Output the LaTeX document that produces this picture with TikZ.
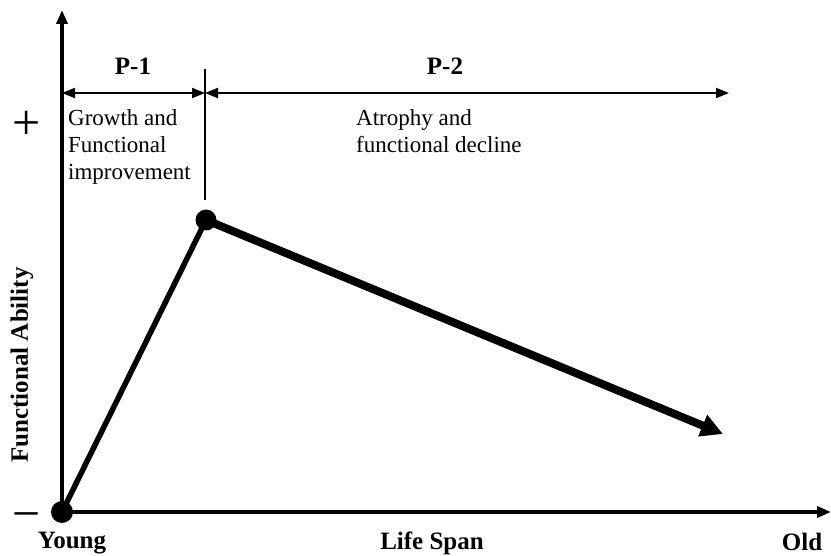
\documentclass[tikz,border=0pt]{standalone}
\usepackage{fontspec}
\setmainfont{Liberation Serif}
\usetikzlibrary{arrows.meta}
\begin{document}
\begin{tikzpicture}[x=1pt,y=-1pt,
  axis/.style={line width=3.5pt,-{Triangle[length=14pt,width=11pt]}},
  span/.style={line width=2pt,{Triangle[length=13pt,width=10pt]}-{Triangle[length=13pt,width=10pt]}},
  dot/.style={circle,fill=black,inner sep=0pt},
  body/.style={font=\fontsize{23}{27}\selectfont,align=left,inner sep=0pt},
  lab/.style={font=\fontsize{25}{30}\selectfont\bfseries,inner sep=0pt},
  sign/.style={font=\fontsize{50}{50}\selectfont,inner sep=0pt}]
\useasboundingbox (0,0) rectangle (831,556);
% coordinates
\coordinate (O) at (62,512);
\coordinate (ytop) at (62,10);
\coordinate (xend) at (831,512);
\coordinate (vtop) at (205,69);
\coordinate (vbot) at (205,200);
\coordinate (p1l) at (62,93);
\coordinate (p1r) at (205,93);
\coordinate (p2r) at (729,93);
\coordinate (tip) at (723,434);
% axes
\draw[axis] (O) -- (ytop);
\draw[axis] (O) -- (xend);
% spans
\draw[line width=1.5pt] (vtop) -- (vbot);
\draw[span] (p1l) -- (p1r);
\draw[span] (p1r) -- (p2r);
% curve
\node[dot,minimum size=22pt] (o) at (O) {};
\node[dot,minimum size=21pt] (pk) at (206,220) {};
\draw[line width=5.5pt] (o.center) -- (pk.center);
\draw[line width=8pt,-{Triangle[length=22pt,width=22pt]}] (pk.center) -- (tip);
% texts
\node[lab] (P1) at (133,66) {P-1};
\node[lab] (P2) at (445,66) {P-2};
\node[body,anchor=north west] (g) at (68,109) {Growth and\\Functional\\improvement};
\node[body,anchor=north west] (a) at (356,109) {Atrophy and\\functional decline};
\node[sign] (plus) at (27,125) {+};
\node[sign] (minus) at (27,522) {\char"2212};
\node[lab] (young) at (72,543) {Young};
\node[lab] (life) at (432,543) {Life Span};
\node[lab] (old) at (802,542) {Old};
\node[lab,rotate=90] (fa) at (22,365) {Functional Ability};
\end{tikzpicture}
\end{document}
